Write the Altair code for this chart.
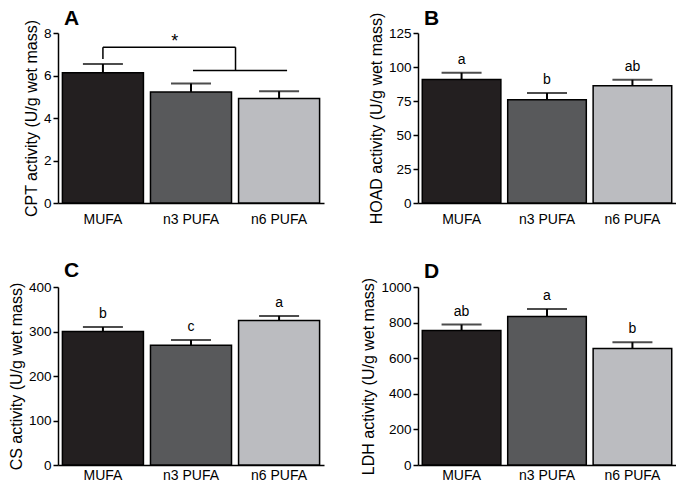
import altair as alt
import pandas as pd

categories = ["MUFA", "n3 PUFA", "n6 PUFA"]

cpt_mean = [6.13, 5.22, 4.92]
cpt_sem = [0.41, 0.40, 0.34]

hoad_mean = [90.9, 75.9, 86.2]
hoad_sem = [4.9, 4.9, 4.4]
hoad_letters = ["a", "b", "ab"]

cs_mean = [300, 269, 325]
cs_sem = [10, 12, 10]
cs_letters = ["b", "c", "a"]

ldh_mean = [756, 834, 655]
ldh_sem = [33, 42, 35]
ldh_letters = ["ab", "a", "b"]

# significance bracket in panel A (data units)
bracket_low = 6.78
bracket_top = 7.33
bracket_right = 6.23
star_y = 7.78

FONT = "Liberation Sans, Arial, sans-serif"
colors_dark = ["#231f20", "#58595b", "#bbbcc0"]
colors_light = ["#231f20", "#58595b", "#cfd0d3"]


def make_x(label_pad):
    def xenc(field="cat:N", **kw):
        return alt.X(field, sort=categories, title=None,
                     scale=alt.Scale(paddingInner=0.08, paddingOuter=0.05),
                     axis=alt.Axis(labelAngle=0, ticks=False,
                                   labelPadding=label_pad, labelFontSize=14),
                     **kw)
    return xenc


def make_y(ytitle, ymax, ystep):
    def yenc(field):
        return alt.Y(field, title=ytitle,
                     scale=alt.Scale(domain=[0, ymax], nice=False),
                     axis=alt.Axis(values=list(range(0, ymax + 1, ystep)),
                                   format="d", titlePadding=4))
    return yenc


def panel(means, sems, letters, xenc, yenc, colors):
    df = pd.DataFrame({
        "cat": categories,
        "mean": means,
        "top": [m + s for m, s in zip(means, sems)],
        "letter": letters if letters else [""] * 3,
    })
    base = alt.Chart(df)
    bars = base.mark_bar(stroke="black", strokeWidth=1.5).encode(
        x=xenc(), y=yenc("mean:Q"),
        color=alt.Color("cat:N", sort=categories, legend=None,
                        scale=alt.Scale(domain=categories, range=colors)),
    )
    stem = base.mark_rule(color="black", strokeWidth=2).encode(
        x=xenc(), y=yenc("mean:Q"), y2="top:Q")
    cap = base.mark_tick(color="black", thickness=2, size=40).encode(
        x=xenc(), y=yenc("top:Q"))
    layers = [bars, stem, cap]
    if letters:
        txt = base.mark_text(baseline="bottom", dy=-6, fontSize=14,
                             font=FONT, color="black").encode(
            x=xenc(), y=yenc("top:Q"), text="letter:N")
        layers.append(txt)
    return layers


def finish(layers, label, w, h, off):
    return alt.layer(*layers).properties(
        width=w, height=h,
        title=alt.Title(label, anchor="start", frame="group", dx=6,
                        fontSize=21, fontWeight="bold", font=FONT,
                        color="black", offset=off),
    )


x_top = make_x(9)
x_bot = make_x(3)

# Panel A
ya = make_y("CPT activity (U/g wet mass)", 8, 2)
la = panel(cpt_mean, cpt_sem, None, x_top, ya, colors_dark)
br = pd.DataFrame({
    "c1": ["MUFA"], "c2": ["n3 PUFA"], "c3": ["n6 PUFA"],
    "low": [bracket_low], "top": [bracket_top], "right": [bracket_right],
    "star": [star_y], "s": ["*"],
})
bb = alt.Chart(br)
v1 = bb.mark_rule(color="black", strokeWidth=1.5).encode(
    x=x_top("c1:N"), y=ya("low:Q"), y2="top:Q")
h1 = bb.mark_rule(color="black", strokeWidth=1.5, x2Offset=4).encode(
    x=x_top("c1:N"),
    x2=alt.X2("c2:N", bandPosition=1), y=ya("top:Q"))
v2 = bb.mark_rule(color="black", strokeWidth=1.5, xOffset=4).encode(
    x=x_top("c2:N", bandPosition=1), y=ya("right:Q"), y2="top:Q")
h2 = bb.mark_rule(color="black", strokeWidth=1.5, xOffset=2, x2Offset=8).encode(
    x=x_top("c2:N"), x2="c3:N", y=ya("right:Q"))
star = bb.mark_text(fontSize=18, font=FONT, color="black", baseline="middle",
                    dy=4).encode(
    x=x_top("c2:N", bandPosition=0.3), y=ya("star:Q"), text="s:N")
A = finish(la + [v1, h1, v2, h2, star], "A", 266, 170, -10)

B = finish(panel(hoad_mean, hoad_sem, hoad_letters, x_top,
                 make_y("HOAD activity (U/g wet mass)", 125, 25), colors_light),
           "B", 258, 170, -17)

C = finish(panel(cs_mean, cs_sem, cs_letters, x_bot,
                 make_y("CS activity (U/g wet mass)", 400, 100), colors_light),
           "C", 266, 178, -1)

D = finish(panel(ldh_mean, ldh_sem, ldh_letters, x_bot,
                 make_y("LDH activity (U/g wet mass)", 1000, 200), colors_dark),
           "D", 258, 178, -5)

chart = alt.concat(A, B, C, D, columns=2, spacing={"row": 34, "column": 36}).properties(
    padding=0, background="white"
).configure_view(stroke=None).configure_axis(
    grid=False,
    domainColor="black", domainWidth=1.5,
    tickColor="black", tickWidth=1.5, tickSize=5,
    labelFont=FONT, labelFontSize=13.5, labelColor="black", labelPadding=2,
    titleFont=FONT, titleFontSize=16, titleFontWeight="normal", titleColor="black",
)

chart.save("out.html", embed_options={"renderer": "svg", "actions": False})
